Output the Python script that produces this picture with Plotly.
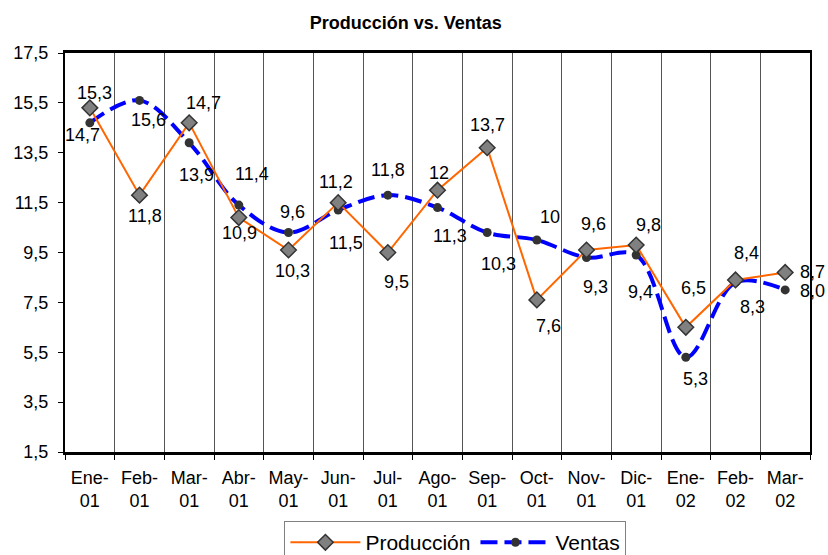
import plotly.graph_objects as go

categories = ["Ene-<br>01", "Feb-<br>01", "Mar-<br>01", "Abr-<br>01", "May-<br>01", "Jun-<br>01",
              "Jul-<br>01", "Ago-<br>01", "Sep-<br>01", "Oct-<br>01", "Nov-<br>01", "Dic-<br>01",
              "Ene-<br>02", "Feb-<br>02", "Mar-<br>02"]
produccion = [15.3, 11.8, 14.7, 10.9, 9.6, 11.5, 9.5, 12.0, 13.7, 7.6, 9.6, 9.8, 6.5, 8.4, 8.7]
ventas = [14.7, 15.6, 13.9, 11.4, 10.3, 11.2, 11.8, 11.3, 10.3, 10.0, 9.3, 9.4, 5.3, 8.3, 8.0]
produccion_labels = ["15,3", "11,8", "14,7", "10,9", "9,6", "11,5", "9,5", "12", "13,7", "7,6",
                     "9,6", "9,8", "6,5", "8,4", "8,7"]
ventas_labels = ["14,7", "15,6", "13,9", "11,4", "10,3", "11,2", "11,8", "11,3", "10,3", "10",
                 "9,3", "9,4", "5,3", "8,3", "8,0"]
y_ticks = [1.5, 3.5, 5.5, 7.5, 9.5, 11.5, 13.5, 15.5, 17.5]

# label offsets in pixels (dx right, dy down)
prod_off = [(5, -15), (5, 21), (14, -20), (1, 15), (4, -38), (8, 40), (9, 29), (1, -17),
            (0, -23), (12, 26), (7, -26), (12, -20), (8, -39), (11, -27), (28, 0)]
vent_off = [(-7, 12), (9, 20), (7, 32), (13, -31), (4, 38), (-2, -28), (0, -25), (12, 28),
            (11, 31), (13, -23), (9, 30), (4, 37), (10, 22), (17, 25), (28, 1)]

FONT = "Liberation Sans, Arial, sans-serif"
LBL = 18

fig = go.Figure()
fig.add_trace(go.Scatter(
    x=categories, y=ventas, name="Ventas", mode="lines+markers",
    line=dict(color="#0000FF", width=4, dash="17px,7px", shape="spline", smoothing=1),
    marker=dict(symbol="circle", size=9, color="#333333"),
    legendrank=2,
))
fig.add_trace(go.Scatter(
    x=categories, y=produccion, name="Producción", mode="lines+markers",
    line=dict(color="#FF6600", width=2),
    marker=dict(symbol="diamond", size=12, color="#808080", line=dict(color="#333333", width=1.5)),
    legendrank=1,
))

annotations = []
last = len(categories) - 1
for series, labels, offs in ((produccion, produccion_labels, prod_off),
                             (ventas, ventas_labels, vent_off)):
    for i, (cat, v, t, (dx, dy)) in enumerate(zip(categories, series, labels, offs)):
        if i == last:
            annotations.append(dict(x=cat, y=v, text=t, showarrow=False, xanchor="left",
                                    xshift=13, yshift=-dy,
                                    font=dict(family=FONT, size=LBL, color="#000")))
        else:
            annotations.append(dict(x=cat, y=v, text=t, showarrow=False, xshift=dx, yshift=-dy,
                                    font=dict(family=FONT, size=LBL, color="#000")))

fig.update_layout(
    width=828, height=555,
    margin=dict(l=65, r=18, t=53, b=103, autoexpand=False),
    paper_bgcolor="white", plot_bgcolor="white",
    separators=",.",
    font=dict(family=FONT, size=18, color="#000"),
    title=dict(text="<b>Producción vs. Ventas</b>", x=0.49, xanchor="center",
               yref="container", y=0.96, yanchor="middle",
               font=dict(family=FONT, size=18, color="#000")),
    annotations=annotations,
    showlegend=True,
    legend=dict(orientation="h", x=0.55, xanchor="center", xref="container",
                y=0.061, yanchor="top", yref="container",
                bordercolor="#808080", borderwidth=1, font=dict(family=FONT, size=21),
                itemwidth=70, tracegroupgap=0),
)
fig.update_xaxes(
    type="category", tickson="boundaries", showgrid=True, gridcolor="#555555", gridwidth=1,
    showline=True, linecolor="#000", linewidth=3, mirror=True, automargin=False,
    ticks="outside", ticklen=5, tickcolor="#000", tickfont=dict(family=FONT, size=18),
    ticklabelstandoff=7, range=[-0.5, 14.5],
)
fig.update_yaxes(
    range=[1.5, 17.5], tickvals=y_ticks, tickformat=".1f", showgrid=False, zeroline=False,
    showline=True, linecolor="#000", linewidth=2, mirror=True, automargin=False,
    ticks="outside", ticklen=5, tickcolor="#000", tickfont=dict(family=FONT, size=18),
    ticklabelstandoff=6,
)

fig.write_html("out.html", config={"displayModeBar": False},
               post_script="document.body.style.margin='0px';")
